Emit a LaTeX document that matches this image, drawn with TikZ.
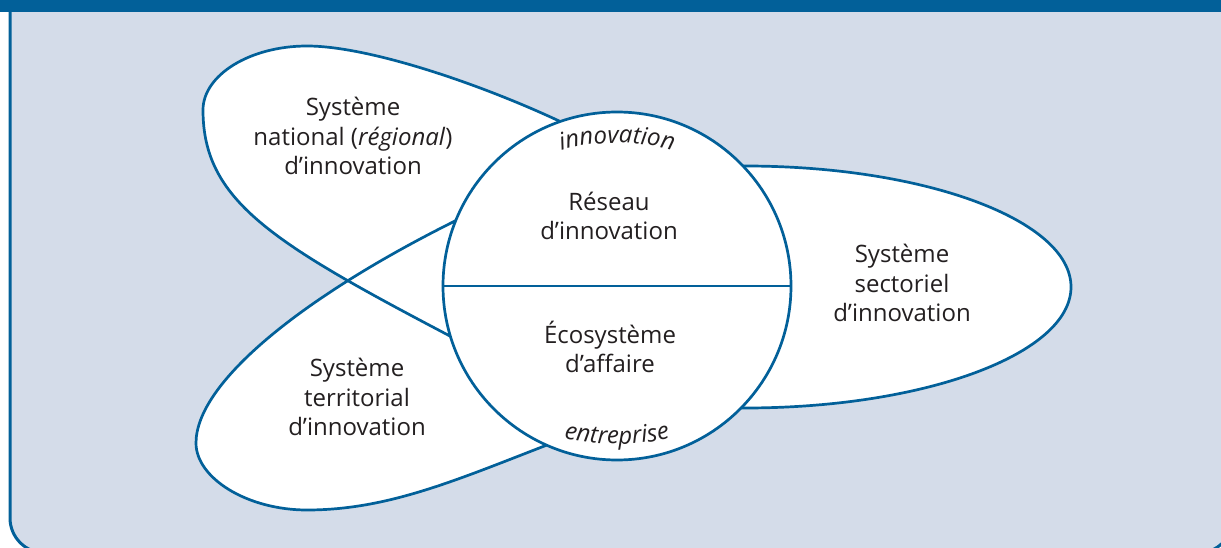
\documentclass[tikz,border=0pt]{standalone}
\usepackage{fontspec}
\setmainfont{Open Sans}
\usepackage{tikz}
\usetikzlibrary{decorations.text}

\definecolor{bleu}{RGB}{2,96,153}
\definecolor{fond}{RGB}{212,220,233}
\definecolor{texte}{RGB}{35,31,32}

\newcommand\arcfont{\fontsize{24}{24}\selectfont\itshape}
\newcommand\lobenat{(448,212) .. controls (271,305) and (203,347) .. (203,437) .. controls (203,472) and (250,501) .. (307,501) .. controls (367,501) and (475,465) .. (557,427) .. controls (611,402) and (660,250) .. (536,165) -- cycle}
\newcommand\lobeter{(453,325) .. controls (301,249) and (196,164) .. (196,104) .. controls (196,69) and (247,37) .. (307,37) .. controls (387,37) and (454,66) .. (547,102) .. controls (600,122) and (660,280) .. (533,365) -- cycle}
\newcommand\lobesec{(700,381) -- (745,381) arc[start angle=90, end angle=-90, x radius=326, y radius=121] -- (700,139) -- cycle}

\begin{document}
\begin{tikzpicture}[x=1pt,y=1pt,
	panneau/.style={fill=fond, draw=bleu, line width=3pt, rounded corners=35pt},
	contour/.style={draw=bleu, line width=2.7pt},
	cercle/.style={circle, draw=bleu, fill=white, line width=2.7pt, minimum size=348pt, inner sep=0pt},
	etiquette/.style={align=center, text=texte, inner sep=0pt, font=\fontsize{24}{29.5}\selectfont}]

	\useasboundingbox (0,0) rectangle (1221,547);
	\clip (0,0) rectangle (1221,547);

	\filldraw[panneau] (10,600) -- (10,-6) -- (1233,-6) -- (1233,600);
	\fill[bleu] (0,535) rectangle (1221,560);

	\foreach \lobe in {\lobenat,\lobeter,\lobesec} \fill[white] \lobe;
	\foreach \lobe in {\lobenat,\lobeter,\lobesec} \draw[contour] \lobe;

	\node[cercle] (cercle) at (617,261) {};
	\draw[contour] (cercle.west) -- (cercle.east);

	\node[etiquette] (national) at (353,411) {Système\\national (\textit{régional})\\d’innovation};
	\node[etiquette] (territorial) at (357,150) {Système\\territorial\\d’innovation};
	\node[etiquette] (sectoriel) at (902,264) {Système\\sectoriel\\d’innovation};
	\node[etiquette] (reseau) at (609,331) {Réseau\\d’innovation};
	\node[etiquette] (ecosysteme) at (610,200) {Écosystème\\d’affaire};

	\path[decorate, decoration={text along path, text align=center, text color=texte,
		text={|\arcfont|innovation}}]
		([shift={(120:220)}]617,184) arc[start angle=120, end angle=60, radius=220];
	\path[decorate, decoration={text along path, text align=center, text color=texte,
		text={|\arcfont|entreprise}}]
		([shift={(240:250)}]617,353) arc[start angle=240, end angle=300, radius=250];
\end{tikzpicture}
\end{document}
